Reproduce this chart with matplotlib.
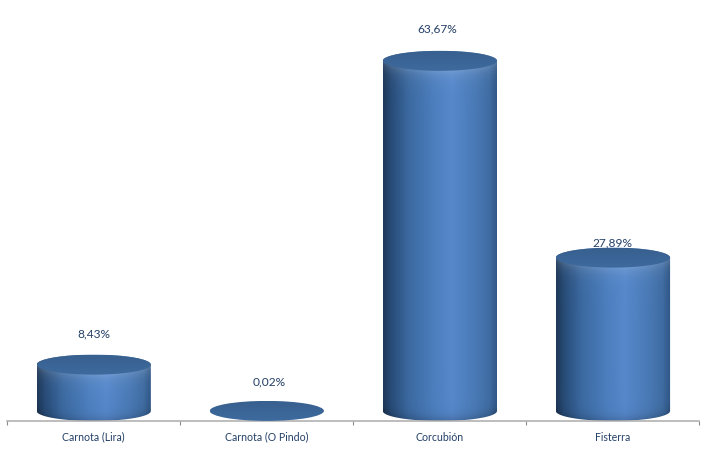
import numpy as np
import matplotlib
matplotlib.use("Agg")
import matplotlib.pyplot as plt
from matplotlib.colors import LinearSegmentedColormap
from matplotlib.patches import Ellipse, PathPatch
from matplotlib.path import Path

categories = ["Carnota (Lira)", "Carnota (O Pindo)", "Corcubión", "Fisterra"]
values = [8.43, 0.02, 63.67, 27.89]
value_labels = ["8,43%", "0,02%", "63,67%", "27,89%"]

W, H = 710, 464
X0, X1, BASE = 7.2, 699.5, 422.0      # axes extent in pixels
PX_PER_UNIT = 5.5                     # pixels per percent
RY = 10.0                             # ellipse half-height in pixels
HALF_W = 0.33                         # half bar width in category units
TEXT = "#233F66"
FONT = "Lato"
GAPS = {0: 22, 1: 20, 2: 23, 3: 6}    # label centre above cylinder top, pixels
SHIFTS = {0: 0.5, 1: 2, 2: -3, 3: -1} # label centre shift, pixels

fig = plt.figure(figsize=(W / 100, H / 100), dpi=100, facecolor="white")
ax = fig.add_axes([X0 / W, (H - BASE) / H, (X1 - X0) / W, BASE / H])
ax.set_xlim(-0.5, len(categories) - 0.5)
y_min = -RY / PX_PER_UNIT
ax.set_ylim(y_min, y_min + BASE / PX_PER_UNIT)
ry = RY / PX_PER_UNIT

cmap = LinearSegmentedColormap.from_list("cyl", [
    (0.00, "#1E3858"), (0.07, "#284C78"), (0.22, "#3B69A0"),
    (0.45, "#4D7FBF"), (0.60, "#5688CB"), (0.80, "#4A7AB6"),
    (0.93, "#3F6CA2"), (1.00, "#2F5584")])
top_cmap = LinearSegmentedColormap.from_list("top", ["#38608F", "#3D6A9E"])

for i, v in enumerate(values):
    if v >= 0.5:
        # Cylinder body with shaded rims
        ny, nx = 220, 240
        u = np.linspace(-1, 1, nx)
        yy = np.linspace(v + ry, -ry, ny)
        U, Y = np.meshgrid(u, yy)
        arc = ry * np.sqrt(np.clip(1 - U ** 2, 0, 1))
        rgb = cmap((U + 1) / 2)[..., :3]
        d_top = np.clip((v - arc - Y) * PX_PER_UNIT, 0, None)
        d_bot = np.clip((Y + arc) * PX_PER_UNIT, 0, None)
        glow = 0.16 * np.exp(-d_top / 7)[..., None]
        rgb = rgb + (1 - rgb) * glow
        rgb = rgb * (1 - 0.17 * np.exp(-d_bot / 5))[..., None]
        im = ax.imshow(rgb, extent=(i - HALF_W, i + HALF_W, -ry, v + ry),
                       aspect="auto", interpolation="bilinear", zorder=2)
        t = np.linspace(0, np.pi, 60)
        verts = list(zip(i - HALF_W * np.cos(t), -ry * np.sin(t)))
        verts += list(zip(i + HALF_W * np.cos(t), v + ry * np.sin(t)))
        verts.append(verts[0])
        clip = PathPatch(Path(verts), transform=ax.transData, fc="none", ec="none")
        ax.add_patch(clip)
        im.set_clip_path(clip)
    # Top face
    top = ax.imshow(np.linspace(0, 1, 64).reshape(-1, 1), cmap=top_cmap,
                    extent=(i - HALF_W, i + HALF_W, v - ry, v + ry),
                    aspect="auto", zorder=3)
    face = Ellipse((i, v), 2 * HALF_W, 2 * ry, transform=ax.transData,
                   fc="none", ec="none")
    ax.add_patch(face)
    top.set_clip_path(face)
    # Value label
    ax.annotate(value_labels[i], xy=(i, v + ry),
                xytext=(SHIFTS[i] * 0.72, GAPS[i] * 0.72),
                textcoords="offset points", ha="center", va="center",
                fontsize=8.6, color=TEXT, family=FONT, zorder=5)

ax.set_xlim(-0.5, len(categories) - 0.5)
ax.set_ylim(y_min, y_min + BASE / PX_PER_UNIT)

ax.set_xticks(np.arange(len(categories)))
ax.set_xticklabels(categories, fontsize=7.6, color=TEXT, family=FONT)
ax.tick_params(axis="x", length=0, pad=7)
ax.set_xticks(np.arange(len(categories) + 1) - 0.5, minor=True)
ax.tick_params(axis="x", which="minor", length=3.2, width=0.8, color="#8C8C8C")
ax.set_yticks([])
for s in ("top", "left", "right"):
    ax.spines[s].set_visible(False)
ax.spines["bottom"].set_color("#ABABAB")
ax.spines["bottom"].set_linewidth(1.1)
ax.patch.set_alpha(0)

fig.savefig("out.png", dpi=100, facecolor="white")
